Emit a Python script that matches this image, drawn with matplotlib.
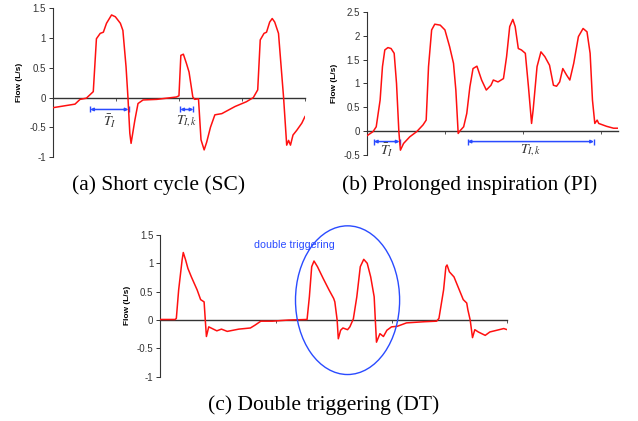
import matplotlib

matplotlib.use("Agg")
import matplotlib.pyplot as plt
from matplotlib.patches import Ellipse
import numpy as np

plt.rcParams.update({
  "font.family": "Liberation Sans",
  "font.size": 7,
  "mathtext.fontset": "stix",
  "figure.facecolor": "white",
  "axes.facecolor": "white",
})

# (a) Short cycle -- time in tick units, flow in L/s
SC_T = [0.0, 0.35, 0.43, 0.53, 0.64, 0.69, 0.75, 0.80, 0.85, 0.93, 0.99, 1.07, 1.11, 1.16,
        1.19, 1.22, 1.24, 1.30, 1.35, 1.43, 1.65, 1.96, 2.00, 2.03, 2.07, 2.12, 2.16, 2.22,
        2.25, 2.31, 2.35, 2.40, 2.44, 2.50, 2.57, 2.68, 2.89, 3.07, 3.18, 3.25, 3.29, 3.35,
        3.39, 3.44, 3.48, 3.52, 3.58, 3.63, 3.66, 3.71, 3.74, 3.77, 3.81, 3.87, 3.95, 4.0]
SC_FLOW = [-0.17, -0.11, -0.03, -0.01, 0.10, 0.99, 1.08, 1.10, 1.25, 1.39, 1.36, 1.25, 1.13, 0.52,
           0.01, -0.60, -0.77, -0.38, -0.10, -0.04, -0.03, 0.01, 0.03, 0.71, 0.73, 0.57, 0.43, 0.01,
           -0.03, -0.02, -0.71, -0.88, -0.75, -0.50, -0.29, -0.27, -0.15, -0.07, 0.0, 0.13, 0.97, 1.08,
           1.10, 1.27, 1.33, 1.27, 1.08, 0.41, 0.01, -0.80, -0.72, -0.80, -0.63, -0.55, -0.43, -0.32]

# (b) Prolonged inspiration
PI_T = [0.0, 0.08, 0.12, 0.17, 0.20, 0.23, 0.27, 0.31, 0.35, 0.38, 0.41, 0.43, 0.47, 0.55,
        0.64, 0.72, 0.76, 0.79, 0.83, 0.87, 0.94, 1.00, 1.06, 1.11, 1.14, 1.17, 1.19, 1.24,
        1.28, 1.32, 1.36, 1.41, 1.47, 1.53, 1.59, 1.62, 1.68, 1.75, 1.79, 1.83, 1.87, 1.90,
        1.94, 1.98, 2.03, 2.07, 2.11, 2.13, 2.18, 2.23, 2.28, 2.34, 2.39, 2.43, 2.47, 2.51,
        2.56, 2.60, 2.65, 2.71, 2.77, 2.82, 2.86, 2.89, 2.92, 2.95, 2.97, 3.07, 3.16, 3.22]
PI_FLOW = [-0.10, -0.01, 0.09, 0.65, 1.35, 1.70, 1.75, 1.73, 1.63, 1.00, -0.01, -0.40, -0.26, -0.12,
           -0.01, 0.13, 0.23, 1.35, 2.12, 2.24, 2.22, 2.12, 1.77, 1.42, 0.86, -0.05, 0.0, 0.09,
           0.37, 0.93, 1.31, 1.36, 1.07, 0.86, 0.96, 1.07, 1.03, 1.10, 1.56, 2.19, 2.34, 2.19,
           1.73, 1.70, 1.63, 0.93, 0.16, 0.44, 1.35, 1.66, 1.56, 1.38, 0.96, 0.94, 1.03, 1.31,
           1.17, 1.07, 1.42, 1.98, 2.15, 2.08, 1.63, 0.65, 0.16, 0.23, 0.16, 0.10, 0.06, 0.06]

# (c) Double triggering
DT_T = [0.0, 0.13, 0.14, 0.16, 0.19, 0.20, 0.22, 0.24, 0.27, 0.32, 0.35, 0.38, 0.39, 0.40,
        0.42, 0.45, 0.49, 0.53, 0.58, 0.68, 0.78, 0.82, 0.87, 0.97, 1.11, 1.27, 1.29, 1.31,
        1.33, 1.36, 1.41, 1.46, 1.50, 1.51, 1.53, 1.54, 1.56, 1.58, 1.62, 1.64, 1.67, 1.70,
        1.73, 1.76, 1.79, 1.82, 1.85, 1.86, 1.87, 1.90, 1.93, 1.96, 2.00, 2.05, 2.13, 2.28,
        2.39, 2.41, 2.45, 2.47, 2.48, 2.50, 2.54, 2.58, 2.62, 2.65, 2.66, 2.68, 2.70, 2.72,
        2.75, 2.81, 2.85, 2.91, 2.97, 3.0]
DT_FLOW = [0.01, 0.01, 0.03, 0.53, 1.06, 1.19, 1.06, 0.91, 0.76, 0.53, 0.36, 0.32, 0.01, -0.29,
           -0.12, -0.15, -0.19, -0.16, -0.20, -0.16, -0.14, -0.09, -0.02, -0.02, 0.0, 0.01, 0.41, 0.94,
           1.04, 0.94, 0.73, 0.53, 0.38, 0.32, 0.0, -0.33, -0.18, -0.14, -0.17, -0.12, 0.02, 0.41,
           0.94, 1.07, 1.00, 0.76, 0.41, 0.0, -0.39, -0.24, -0.29, -0.18, -0.12, -0.11, -0.05, -0.03,
           -0.02, 0.03, 0.53, 0.94, 0.97, 0.85, 0.76, 0.56, 0.36, 0.30, 0.18, 0.0, -0.31, -0.17,
           -0.21, -0.27, -0.21, -0.18, -0.15, -0.17]

SC_TICKS = [1.5, 1, 0.5, 0, -0.5, -1]
PI_TICKS = [2.5, 2, 1.5, 1, 0.5, 0, -0.5]
DT_TICKS = [1.5, 1, 0.5, 0, -0.5, -1]

RED = "#ff1010"
BLUE = "#2a4bff"
CAPTION_FONT = "Liberation Serif"


def _fmt(v):
  return f"{v:g}"


def _setup(ax, t, flow, ticks, xmax, xticks, ylabel_x):
  ax.plot(t, flow, color=RED, linewidth=1.1, zorder=3)
  ax.set_xlim(0, xmax)
  ax.set_ylim(min(ticks), max(ticks))
  ax.set_yticks(ticks)
  ax.set_yticklabels([_fmt(v) for v in ticks])
  ax.set_xticks(xticks)
  ax.set_xticklabels([])
  for spine in ("top", "right"):
    ax.spines[spine].set_visible(False)
  ax.spines["bottom"].set_position(("data", 0))
  ax.spines["bottom"].set_color("#333333")
  ax.spines["bottom"].set_linewidth(1.0)
  ax.spines["left"].set_color("#333333")
  ax.spines["left"].set_linewidth(0.8)
  ax.tick_params(axis="y", length=3, width=0.7, pad=2, labelsize=7, colors="#333333")
  ax.tick_params(axis="x", length=2.5, width=0.7, direction="out", colors="#555555")
  ax.set_ylabel("Flow (L/s)", fontweight="bold", fontsize=6)
  ax.yaxis.set_label_coords(ylabel_x, 0.5)


def _span(ax, t0, t1, y, label, label_y):
  ax.annotate("", xy=(t0, y), xytext=(t1, y),
              arrowprops=dict(arrowstyle="<|-|>,head_length=0.25,head_width=0.12",
                              color=BLUE, lw=1.1, shrinkA=0, shrinkB=0))
  ax.plot([t0, t1], [y, y], linestyle="none", marker="|", markersize=4,
          markeredgewidth=1.0, color=BLUE)
  ax.text((t0 + t1) / 2, label_y, label, ha="center", va="center",
          fontsize=10, color="#333333")


fig = plt.figure(figsize=(6.38, 4.21), dpi=100)

ax_a = fig.add_axes([0.083, 0.627, 0.395, 0.353])
_setup(ax_a, SC_T, SC_FLOW, SC_TICKS, 4.0, [0, 1, 2, 3, 4], -0.12)
_span(ax_a, 0.59, 1.20, -0.2, r"$\bar{T}_I$", -0.40)
_span(ax_a, 2.02, 2.23, -0.2, r"$T_{I,k}$", -0.40)

ax_b = fig.add_axes([0.575, 0.632, 0.394, 0.340])
_setup(ax_b, PI_T, PI_FLOW, PI_TICKS, 3.22, [0, 1, 2, 3], -0.115)
_span(ax_b, 0.09, 0.42, -0.22, r"$\bar{T}_I$", -0.40)
_span(ax_b, 1.29, 2.91, -0.22, r"$T_{I,k}$", -0.40)

ax_c = fig.add_axes([0.251, 0.105, 0.544, 0.337])
_setup(ax_c, DT_T, DT_FLOW, DT_TICKS, 3.0, [0, 1, 2, 3], -0.085)
ax_c.add_patch(Ellipse((1.62, 0.35), 0.90, 2.62, fill=False, edgecolor=BLUE,
                       linewidth=1.0, clip_on=False, zorder=4))
ax_c.text(1.16, 1.32, "double triggering", ha="center", va="center",
          fontsize=7.7, color=BLUE)

fig.text(159 / 638, 1 - 185 / 421, "(a) Short cycle (SC)", ha="center", va="center",
         fontsize=15.5, family=CAPTION_FONT)
fig.text(470 / 638, 1 - 185 / 421, "(b) Prolonged inspiration (PI)", ha="center",
         va="center", fontsize=15.5, family=CAPTION_FONT)
fig.text(324 / 638, 1 - 405 / 421, "(c) Double triggering (DT)", ha="center",
         va="center", fontsize=15.5, family=CAPTION_FONT)

fig.savefig("out.png", dpi=100)
plt.close(fig)
